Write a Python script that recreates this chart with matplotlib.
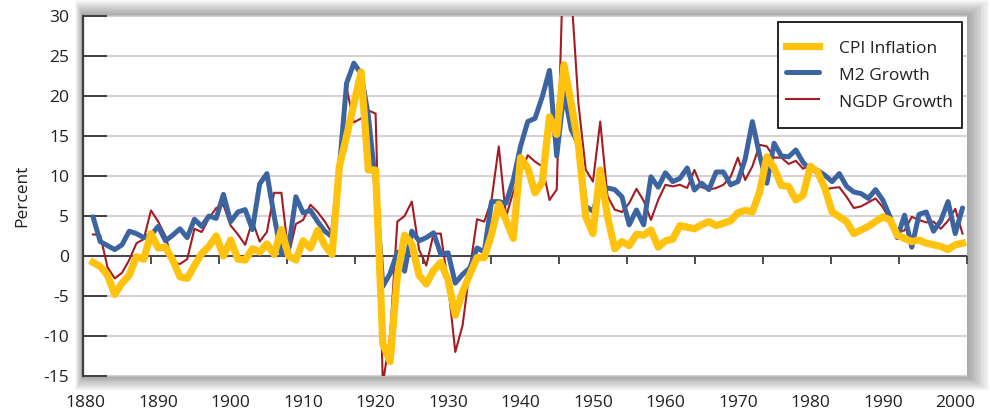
import matplotlib
matplotlib.use("Agg")
import matplotlib.pyplot as plt
from matplotlib.patches import Rectangle

# ---------------- data ----------------
years = list(range(1881, 2002))

cpi_inflation = [
    -0.8, -1.3, -2.4, -4.8, -3.4, -2.4, -0.1, -0.4, 2.8, 1.0,
    1.1, -0.5, -2.6, -2.8, -1.2, 0.3, 1.2, 2.5, 0.0, 2.0,
    -0.4, -0.5, 0.9, 0.5, 1.5, 0.2, 3.3, 0.0, -0.5, 1.9,
    1.0, 3.2, 1.3, 0.2, 11.2, 15.0, 19.0, 23.0, 10.75, 10.75,
    -11.0, -13.2, -2.5, 2.6, 1.5, -2.4, -3.5, -1.8, -0.8, -3.0,
    -7.4, -4.5, -2.3, -0.2, -0.2, 2.7, 6.5, 4.5, 2.2, 12.3,
    11.0, 7.9, 9.2, 17.4, 15.2, 23.9, 19.0, 13.8, 4.9, 2.8,
    10.75, 5.0, 0.9, 1.8, 1.3, 2.7, 2.6, 3.25, 1.1, 1.9,
    2.1, 3.8, 3.6, 3.4, 3.9, 4.3, 3.8, 4.1, 4.4, 5.4,
    5.7, 5.5, 8.0, 12.4, 11.0, 8.8, 8.7, 7.0, 7.6, 11.2,
    10.5, 8.5, 5.5, 4.9, 4.3, 2.8, 3.25, 3.7, 4.3, 4.9,
    4.5, 2.6, 2.2, 1.8, 2.0, 1.6, 1.4, 1.2, 0.8, 1.4,
    1.6,
]

m2_growth = [
    4.9, 1.8, 1.3, 0.8, 1.4, 3.1, 2.8, 2.3, 2.6, 3.7,
    1.9, 2.6, 3.4, 2.3, 4.6, 3.7, 5.0, 4.7, 7.7, 4.3,
    5.5, 5.8, 3.3, 9.0, 10.3, 5.0, 0.2, 1.0, 7.4, 5.4,
    5.7, 4.3, 3.1, 2.4, 11.0, 21.6, 24.1, 22.8, 17.5, 9.0,
    -3.8, -2.2, 0.5, -1.9, 3.1, 1.9, 2.3, 2.9, 0.2, 0.4,
    -3.4, -2.3, -1.5, 1.0, 0.5, 6.8, 6.8, 6.6, 9.5, 13.7,
    16.8, 17.2, 19.9, 23.2, 12.5, 20.5, 15.8, 14.0, 6.2, 5.6,
    8.3, 8.5, 8.3, 7.4, 3.9, 5.75, 3.9, 9.9, 8.6, 10.4,
    9.3, 9.7, 11.0, 8.25, 9.1, 8.3, 10.5, 10.5, 8.9, 9.3,
    12.1, 16.8, 12.6, 9.1, 14.1, 12.5, 12.4, 13.25, 11.7, 10.75,
    10.7, 10.1, 9.3, 10.3, 8.7, 8.0, 7.8, 7.2, 8.3, 7.0,
    4.9, 2.3, 5.1, 1.1, 5.2, 5.5, 3.1, 4.4, 6.8, 2.8,
    6.0,
]

ngdp_growth = [
    2.7, 2.6, -1.4, -2.8, -2.1, -0.5, 1.6, 2.1, 5.7, 4.3,
    2.5, -0.8, -1.0, -0.4, 3.4, 3.0, 4.7, 6.0, 6.4, 3.8,
    2.7, 1.4, 4.4, 1.8, 3.0, 7.9, 7.9, 0.1, 4.0, 4.5,
    6.4, 5.5, 4.3, 2.8, 11.5, 21.0, 16.7, 17.2, 18.2, 17.8,
    -16.0, -10.0, 4.3, 5.0, 6.8, 0.8, -1.2, 2.8, 2.8, -3.5,
    -12.0, -8.7, -1.7, 4.6, 4.3, 7.0, 13.7, 4.9, 8.0, 10.3,
    12.6, 11.8, 11.2, 7.0, 8.3, 40.0, 33.0, 19.0, 10.8, 9.3,
    16.8, 7.5, 5.8, 5.5, 6.6, 8.4, 6.9, 4.5, 7.0, 8.9,
    8.7, 8.9, 8.5, 10.75, 8.6, 8.3, 8.5, 8.9, 9.9, 12.3,
    9.5, 11.2, 13.9, 13.7, 12.3, 12.3, 11.5, 11.9, 10.9, 11.5,
    10.6, 8.3, 8.5, 8.6, 7.4, 6.0, 6.2, 6.7, 7.2, 6.1,
    4.5, 3.0, 3.2, 4.9, 4.5, 4.2, 4.3, 3.4, 4.4, 5.9,
    2.8,
]

series_labels = ["CPI Inflation", "M2 Growth", "NGDP Growth"]
x_tick_labels = [1880, 1890, 1900, 1910, 1920, 1930, 1940, 1950,
                 1960, 1970, 1980, 1990, 2000]
y_tick_values = [-15, -10, -5, 0, 5, 10, 15, 20, 25, 30]

# ---------------- style ----------------
plt.rcParams['font.family'] = ['Open Sans', 'DejaVu Sans']
TEXT = '#231f20'
C_CPI = '#fec20f'
C_M2 = '#3c64a0'
C_NGDP = '#a31c22'
C_GRID = '#cfc2c2'
C_AXIS = '#3f3f3f'
FS = 12.5

W, H = 990, 412
fig = plt.figure(figsize=(W / 100, H / 100), dpi=100)
fig.patch.set_facecolor('white')

L, R, T, B = 83, 967, 16, 376
rect = [L / W, 1 - B / H, (R - L) / W, (B - T) / H]

# soft drop shadow around plot area
n = 16
for d in range(1, n + 1):
    x0 = L - 0.5 * d
    x1 = R + 1.4 * d
    y0 = B + 0.9 * d
    y1 = T - 1.0 * d
    fig.patches.append(Rectangle((x0 / W, 1 - y0 / H), (x1 - x0) / W, (y0 - y1) / H,
                                 transform=fig.transFigure, facecolor='black',
                                 edgecolor='none', alpha=0.022, zorder=-10))

ax = fig.add_axes(rect)
ax2 = ax.twiny()
ax2.set_zorder(0)
ax.set_zorder(1)
ax.patch.set_visible(False)
ax2.patch.set_visible(True)
ax2.patch.set_facecolor('white')

ax.set_xlim(1879.62, 2001.62)
ax.set_ylim(-15, 30)

# secondary axis carries the category tick marks on the zero line
ax2.set_xlim(0, 13)
ax2.set_xticks(range(1, 14))
ax2.xaxis.set_ticks_position('bottom')
ax2.spines['bottom'].set_position(('data', 0))
for s in ax2.spines.values():
    s.set_visible(False)
ax2.tick_params(axis='x', direction='out', length=5.5, width=1.3, color=C_AXIS,
                labelbottom=False, labeltop=False, top=False)

# gridlines and zero line
for v in y_tick_values:
    if v == 0:
        ax.axhline(v, color='#4a4a4a', lw=1.5, zorder=1)
    else:
        ax.axhline(v, color=C_GRID, lw=1.1, zorder=0.5, clip_on=False)

for s in ['top', 'right', 'bottom']:
    ax.spines[s].set_visible(False)
ax.spines['left'].set_color(C_AXIS)
ax.spines['left'].set_linewidth(1.6)
ax.spines['left'].set_zorder(5)

ax.set_yticks(y_tick_values)
ax.set_yticklabels([str(v) for v in y_tick_values])
ax.tick_params(axis='y', direction='in', length=17, width=1.4, color=C_AXIS,
               pad=10, labelsize=FS, labelcolor=TEXT)
ax.set_xticks(x_tick_labels)
ax.set_xticklabels([str(v) for v in x_tick_labels])
ax.tick_params(axis='x', length=0, pad=13.5, labelsize=FS, labelcolor=TEXT)

ax.set_ylabel('Percent', fontsize=FS, color=TEXT)
ax.yaxis.set_label_coords(-0.0598, 0.5)

# data
l_ngdp, = ax.plot(years, ngdp_growth, color=C_NGDP, lw=1.5, zorder=2,
                  solid_joinstyle='round', label=series_labels[2])
l_m2, = ax.plot(years, m2_growth, color=C_M2, lw=3.6, zorder=3,
                solid_joinstyle='round', solid_capstyle='round', label=series_labels[1])
l_cpi, = ax.plot(years, cpi_inflation, color=C_CPI, lw=5.2, zorder=4,
                 solid_joinstyle='round', label=series_labels[0])

leg = ax.legend([l_cpi, l_m2, l_ngdp], series_labels, loc='upper right',
                bbox_to_anchor=(0.994, 0.983), borderaxespad=0, fontsize=FS,
                frameon=True, fancybox=False, framealpha=1, edgecolor='black',
                handlelength=1.9, handleheight=2.69, handletextpad=1.15,
                labelspacing=-0.44, borderpad=0.5)
leg.get_frame().set_linewidth(1.2)
for t in leg.get_texts():
    t.set_color(TEXT)
# centre the sample lines on the text
for ln in leg.get_lines():
    ln.set_ydata([0.45 * FS] * len(ln.get_xdata()))
leg.set_zorder(10)

fig.savefig('out.png', dpi=100)
